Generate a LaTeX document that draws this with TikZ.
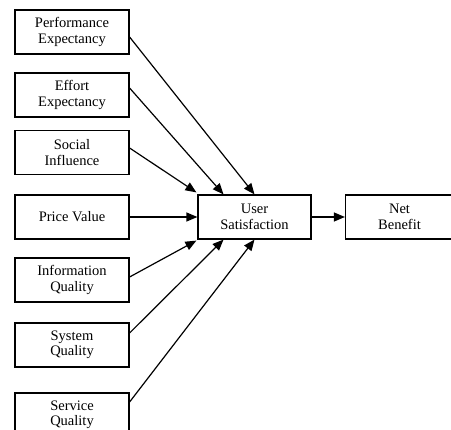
\documentclass[tikz,border=0pt]{standalone}
\usepackage{fontspec}
\setmainfont{Liberation Serif}
\usetikzlibrary{arrows.meta}
\tikzset{
  box/.style={draw, line width=1.2pt, minimum width=114pt, minimum height=44pt,
    inner sep=0pt, align=center, font=\fontsize{14.5}{15.5}\selectfont},
  link/.style={line width=1.2pt, -{Triangle[length=11pt,width=9pt]}}
}
\begin{document}
\begin{tikzpicture}[x=1pt,y=-1pt]
    \useasboundingbox (0,0) rectangle (451,430);
    \clip (0,0) rectangle (451,430);
    \node[box] (perf) at (72,32) {Performance\\Expectancy};
    \node[box] (effort) at (72,95) {Effort\\Expectancy};
    \node[box] (social) at (72,152.5) {Social\\Influence};
    \node[box] (price) at (72,217) {Price Value};
    \node[box] (info) at (72,280) {Information\\Quality};
    \node[box] (sys) at (72,345) {System\\Quality};
    \node[box] (serv) at (72,415) {Service\\Quality};
    \node[box, minimum width=113pt] (us) at (254.5,217) {User\\Satisfaction};
    \node[box, minimum width=108pt] (nb) at (399.5,217) {Net\\Benefit};
    \draw[link] ([yshift=-5pt]perf.east) -- (us.north);
    \draw[link] ([yshift=7pt]effort.east) -- ([xshift=-31pt]us.north);
    \draw[link] ([yshift=4.5pt]social.east) -- ([xshift=-1pt,yshift=2pt]us.north west);
    \draw[link] (price.east) -- (us.west);
    \draw[link] ([yshift=3pt]info.east) -- ([xshift=-1pt,yshift=-1pt]us.south west);
    \draw[link] ([yshift=12pt]sys.east) -- ([xshift=-31pt]us.south);
    \draw[link] ([yshift=13pt]serv.east) -- (us.south);
    \draw[link] (us.east) -- (nb.west);
\end{tikzpicture}
\end{document}
